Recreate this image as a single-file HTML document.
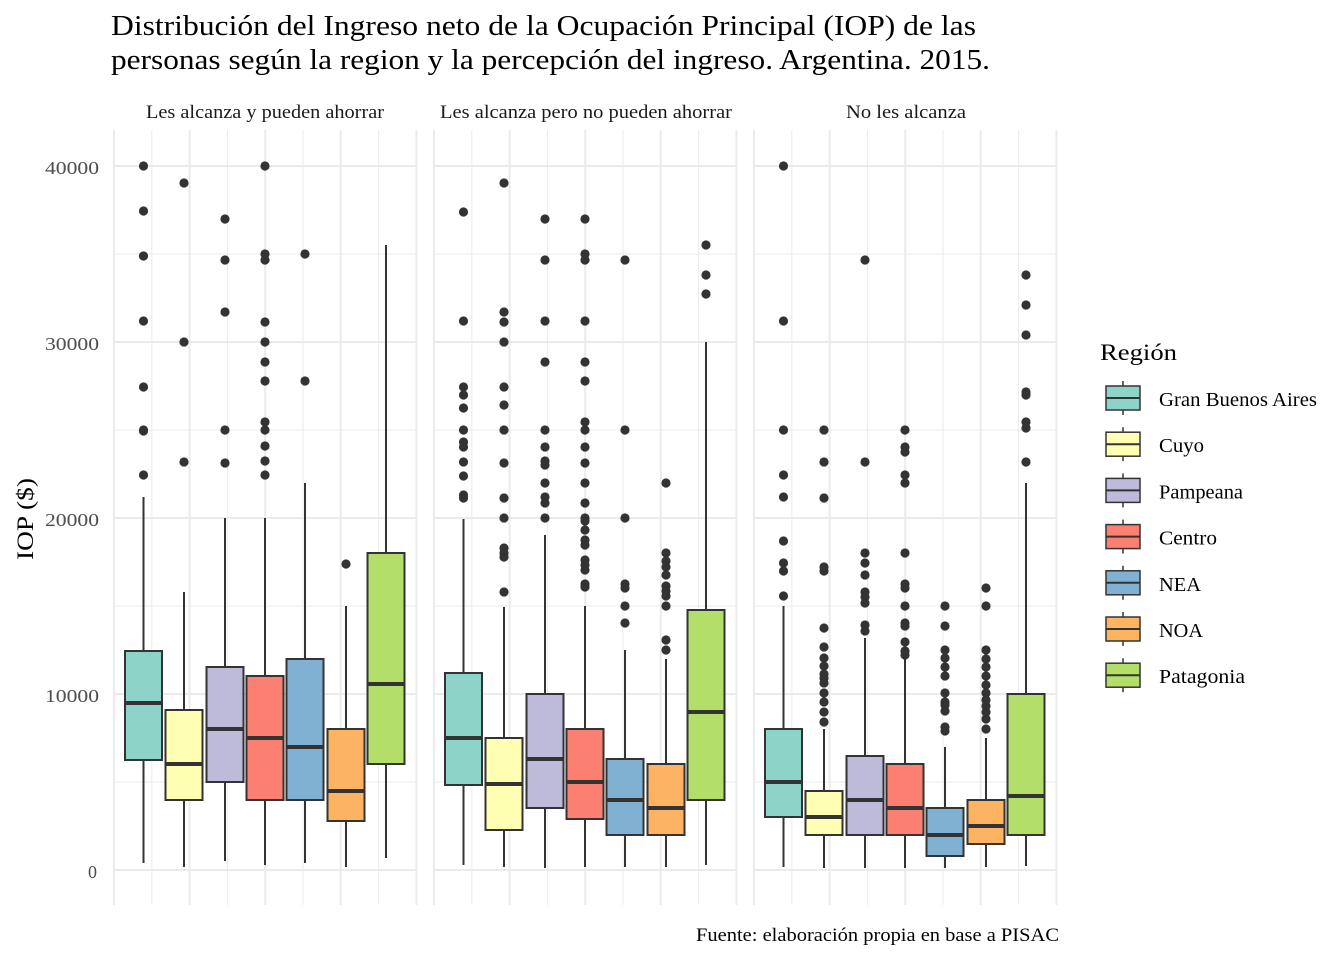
<!DOCTYPE html>
<html><head><meta charset="utf-8"><style>
body{margin:0;background:#fff;}
svg text{font-family:"Liberation Serif",serif;}
</style></head><body>
<svg id="s" width="1344" height="960" xmlns="http://www.w3.org/2000/svg">
<rect width="1344" height="960" fill="#fff"/>
<text x="111" y="35" font-size="28" fill="#000" textLength="865" lengthAdjust="spacingAndGlyphs">Distribución del Ingreso neto de la Ocupación Principal (IOP) de las</text>
<text x="111" y="69" font-size="28" fill="#000" textLength="879" lengthAdjust="spacingAndGlyphs">personas según la region y la percepción del ingreso. Argentina. 2015.</text>
<text x="146" y="118" font-size="19" fill="#1a1a1a" textLength="238" lengthAdjust="spacingAndGlyphs">Les alcanza y pueden ahorrar</text>
<text x="440" y="118" font-size="19" fill="#1a1a1a" textLength="292" lengthAdjust="spacingAndGlyphs">Les alcanza pero no pueden ahorrar</text>
<text x="846" y="118" font-size="19" fill="#1a1a1a" textLength="120" lengthAdjust="spacingAndGlyphs">No les alcanza</text>
<g font-size="18" fill="#4D4D4D">
<text x="45" y="174" textLength="54" lengthAdjust="spacingAndGlyphs">40000</text><text x="45" y="350" textLength="54" lengthAdjust="spacingAndGlyphs">30000</text><text x="45" y="526" textLength="54" lengthAdjust="spacingAndGlyphs">20000</text><text x="45" y="702" textLength="54" lengthAdjust="spacingAndGlyphs">10000</text><text x="88" y="878">0</text>
</g>
<text transform="translate(33,560) rotate(-90)" font-size="23" fill="#000" textLength="82" lengthAdjust="spacingAndGlyphs">IOP ($)</text>
<text x="1100" y="360" font-size="23" fill="#000" textLength="77" lengthAdjust="spacingAndGlyphs">Región</text>
<text x="696" y="941" font-size="19" fill="#000" textLength="363" lengthAdjust="spacingAndGlyphs">Fuente: elaboración propia en base a PISAC</text>
<g id="g"></g>
</svg>
<script>
const C=["#8DD3C7","#FFFFB3","#BEBADA","#FB8072","#80B1D3","#FDB462","#B3DE69"];
const N=["Gran Buenos Aires","Cuyo","Pampeana","Centro","NEA","NOA","Patagonia"];
const L=[158,45,84,58,42,44,86];
const D=[[
[651,703,760,863,497,[166,211,256,321,387,430,431,475]],
[710,764,800,867,592,[183,342,462]],
[667,729,782,861,518,[219,260,312,430,463]],
[676,738,800,865,518,[166,254,260,322,342,362,381,422,430,446,461,475]],
[659,747,800,863,483,[254,381]],
[729,791,821,867,606,[564]],
[553,684,764,858,245,[]]],[
[673,738,785,865,519,[212,321,387,395,408,430,442,447,462,476,495,498]],
[738,784,830,867,607,[183,312,322,342,387,405,430,463,498,518,548,553,557,592]],
[694,759,808,868,535,[219,260,321,362,430,447,461,465,483,497,503,518]],
[729,782,819,867,606,[219,254,260,321,362,381,422,430,447,463,483,503,518,521,530,540,545,560,565,570,584,587]],
[759,800,835,867,650,[260,430,518,584,588,606,623]],
[764,808,835,867,659,[483,553,561,567,575,586,591,596,606,640,650]],
[610,712,800,865,342,[245,275,294]]],[
[729,782,817,867,606,[166,321,430,475,497,541,563,571,596]],
[791,817,835,868,729,[430,462,498,567,571,628,647,658,666,674,678,683,693,702,712,722]],
[756,800,835,868,638,[260,462,553,563,575,592,597,603,625,631]],
[764,808,835,868,659,[430,447,452,475,483,553,584,588,606,623,626,642,651,655]],
[808,835,856,868,747,[606,626,650,658,667,676,693,702,705,711,727,731]],
[800,826,844,867,738,[588,606,650,659,667,676,685,693,700,706,712,719,729]],
[694,796,835,866,483,[275,305,335,392,395,422,428,462]]]];
const cx=[143.5,184,225,265,305,346,386];
let h="";const G="#EBEBEB",K="#333333";
for(let p=0;p<3;p++){const x0=114+320*p,x1=x0+303;
 for(let v=5000;v<=40000;v+=10000){const y=870-v*0.0176;h+=`<line x1="${x0}" x2="${x1}" y1="${y}" y2="${y}" stroke="${G}" stroke-width="1"/>`;}
 for(let v=0;v<=40000;v+=10000){const y=870-v*0.0176;h+=`<line x1="${x0}" x2="${x1}" y1="${y}" y2="${y}" stroke="${G}" stroke-width="2"/>`;}
 for(let k=0;k<9;k++){const x=x0+k*37.8;h+=`<line x1="${x}" x2="${x}" y1="130" y2="905" stroke="${G}" stroke-width="${k%2?1:2}"/>`;}
 for(let i=0;i<7;i++){const [t,m,b,lo,hi,o]=D[p][i];const c=cx[i]+320*p;
  h+=`<line x1="${c}" x2="${c}" y1="${hi}" y2="${t}" stroke="${K}" stroke-width="2"/><line x1="${c}" x2="${c}" y1="${b}" y2="${lo}" stroke="${K}" stroke-width="2"/>`;
  h+=`<rect x="${c-18.5}" y="${t}" width="37" height="${b-t}" fill="${C[i]}" stroke="${K}" stroke-width="2"/>`;
  h+=`<line x1="${c-18.5}" x2="${c+18.5}" y1="${m}" y2="${m}" stroke="${K}" stroke-width="4"/>`;
  o.forEach(y=>h+=`<circle cx="${c}" cy="${y}" r="4.6" fill="${K}"/>`);}
}
for(let i=0;i<7;i++){const y=398+46.2*i;
 h+=`<line x1="1123" x2="1123" y1="${y-17}" y2="${y+17}" stroke="${K}" stroke-width="1.5"/>`;
 h+=`<rect x="1106" y="${y-12}" width="34" height="24" fill="${C[i]}" stroke="${K}" stroke-width="1.5"/>`;
 h+=`<line x1="1106" x2="1140" y1="${y}" y2="${y}" stroke="${K}" stroke-width="2"/>`;
 h+=`<text x="1159" y="${y+8}" font-size="20" fill="#000" textLength="${L[i]}" lengthAdjust="spacingAndGlyphs">${N[i]}</text>`;}
document.getElementById("g").innerHTML=h;
</script>
</body></html>
